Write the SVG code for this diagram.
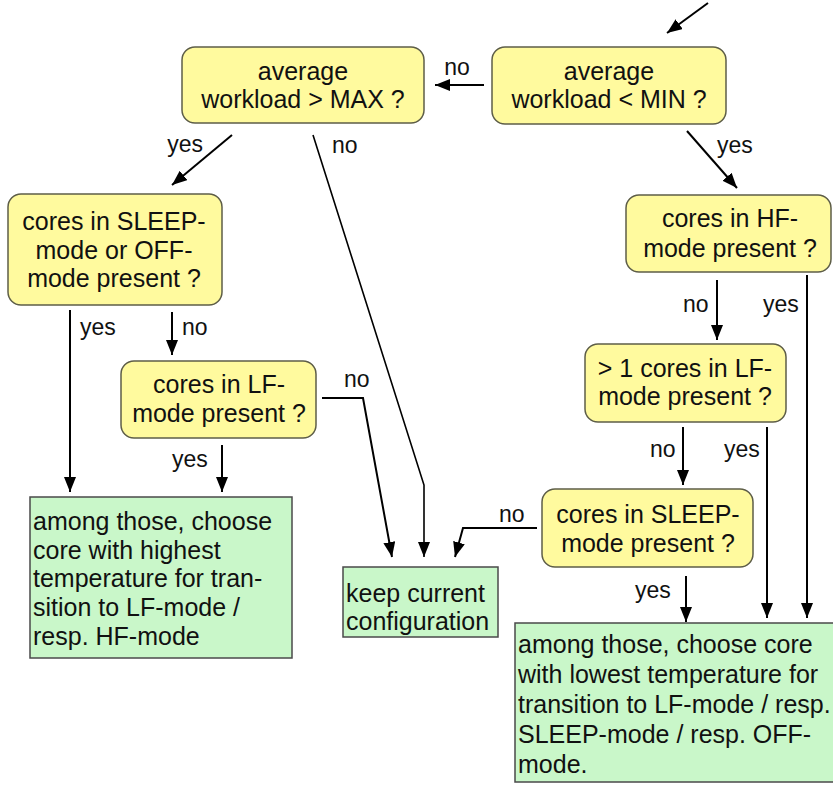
<svg xmlns="http://www.w3.org/2000/svg" width="833" height="787" viewBox="0 0 833 787">
<defs>
<marker id="ah" markerUnits="userSpaceOnUse" markerWidth="16" markerHeight="12" refX="15" refY="6" orient="auto">
<path d="M0,0 L15,6 L0,12 Z" fill="#000"/>
</marker>
<style>
.q rect{fill:#FFFA9E;stroke:#5e5e48;stroke-width:1.5}
.a rect{fill:#C9F7C9;stroke:#4a4a4a;stroke-width:1.5}
text{font-family:"Liberation Sans",Arial,sans-serif;font-size:25px;fill:#111}
.q text{text-anchor:middle}
.lbl{font-size:23px}
#connectors path{fill:none;stroke:#000;stroke-width:2;marker-end:url(#ah)}
#connectors path.plain{marker-end:none}
</style>
</defs>
<rect width="833" height="787" fill="#fff"/>

<g id="connectors">
<path d="M708,3 L667,33"/>
<path d="M484,85 L435,85"/>
<path d="M232,135 L172,185"/>
<path d="M313,135 L424,485 L424,557" style="stroke-width:1.6"/>
<path d="M687,131 L737,188"/>
<path d="M70,310 L70,492"/>
<path d="M172,312 L172,355"/>
<path d="M222,445 L222,492"/>
<path d="M322,398 L363,398 L392,557"/>
<path d="M717,280 L717,340"/>
<path d="M807,275 L807,618"/>
<path d="M683,427 L683,485"/>
<path d="M767,427 L767,618"/>
<path d="M537,528 L463,528 L455,557"/>
<path d="M686,576 L686,622"/>
<text class="lbl" x="457" y="75" text-anchor="middle">no</text>
<text class="lbl" x="203" y="152" text-anchor="end">yes</text>
<text class="lbl" x="332" y="153">no</text>
<text class="lbl" x="717" y="153">yes</text>
<text class="lbl" x="80" y="335">yes</text>
<text class="lbl" x="182" y="335">no</text>
<text class="lbl" x="344" y="387">no</text>
<text class="lbl" x="172" y="467">yes</text>
<text class="lbl" x="683" y="312">no</text>
<text class="lbl" x="763" y="312">yes</text>
<text class="lbl" x="650" y="457">no</text>
<text class="lbl" x="724" y="457">yes</text>
<text class="lbl" x="499" y="522">no</text>
<text class="lbl" x="635" y="598">yes</text>
</g>

<g id="q-max" class="q">
<rect x="182" y="47" width="242" height="76" rx="13"/>
<text x="303" y="80">average</text>
<text x="303" y="108">workload &gt; MAX ?</text>
</g>

<g id="q-min" class="q">
<rect x="492" y="47" width="234" height="77" rx="13"/>
<text x="609" y="80">average</text>
<text x="609" y="108">workload &lt; MIN ?</text>
</g>

<g id="q-sleep-off" class="q">
<rect x="8" y="194" width="214" height="111" rx="13"/>
<text x="114" y="230">cores in SLEEP-</text>
<text x="114" y="259">mode or OFF-</text>
<text x="114" y="287">mode present ?</text>
</g>

<g id="q-lf" class="q">
<rect x="121" y="361" width="195" height="77" rx="13"/>
<text x="219" y="393">cores in LF-</text>
<text x="219" y="422">mode present ?</text>
</g>

<g id="q-hf" class="q">
<rect x="626" y="195" width="205" height="77" rx="13"/>
<text x="730" y="227">cores in HF-</text>
<text x="730" y="257">mode present ?</text>
</g>

<g id="q-lf2" class="q">
<rect x="585" y="344" width="201" height="78" rx="13"/>
<text x="685" y="377">&gt; 1 cores in LF-</text>
<text x="685" y="405">mode present ?</text>
</g>

<g id="q-sleep" class="q">
<rect x="542" y="489" width="211" height="78" rx="13"/>
<text x="648" y="523">cores in SLEEP-</text>
<text x="648" y="552">mode present ?</text>
</g>

<g id="a-highest" class="a">
<rect x="30" y="497" width="262" height="161"/>
<text x="33" y="530">among those, choose</text>
<text x="33" y="559">core with highest</text>
<text x="33" y="587">temperature for tran-</text>
<text x="33" y="616">sition to LF-mode /</text>
<text x="33" y="645">resp. HF-mode</text>
</g>

<g id="a-keep" class="a">
<rect x="343" y="567" width="155" height="70"/>
<text x="346" y="602">keep current</text>
<text x="346" y="630">configuration</text>
</g>

<g id="a-lowest" class="a">
<rect x="515" y="623" width="330" height="159"/>
<text x="518" y="653">among those, choose core</text>
<text x="518" y="683">with lowest temperature for</text>
<text x="518" y="713">transition to LF-mode / resp.</text>
<text x="518" y="743">SLEEP-mode / resp. OFF-</text>
<text x="518" y="773">mode.</text>
</g>
</svg>
